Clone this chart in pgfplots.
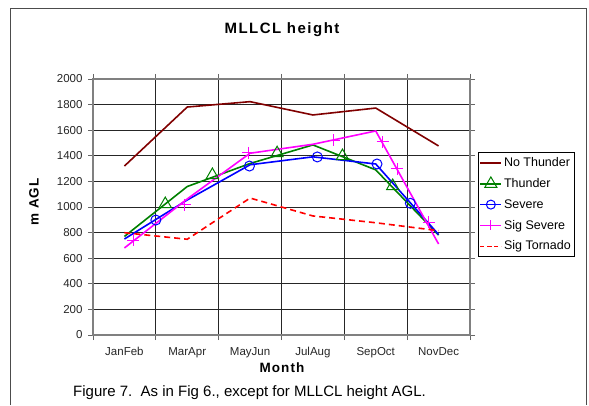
\documentclass[border=0pt]{standalone}
\usepackage{fontspec}
\setmainfont{Liberation Sans}
\usepackage{pgfplots}
\pgfplotsset{compat=1.18}
\definecolor{ntred}{RGB}{128,0,0}
\definecolor{thgreen}{RGB}{0,128,0}
\definecolor{svblue}{RGB}{0,0,255}
\definecolor{ssmag}{RGB}{255,0,255}
\definecolor{strd}{RGB}{255,0,0}
\begin{document}
\begin{tikzpicture}
\useasboundingbox (0pt,0pt) rectangle (589pt,405pt);
\draw[black!70, line width=0.8pt] (10.5pt,0pt) |- (586pt,397pt) -- (586pt,0pt);
\begin{axis}[
  at={(93pt,70pt)}, anchor=south west,
  width=377pt, height=256pt, scale only axis,
  xmin=-0.5, xmax=5.5, ymin=0, ymax=2000,
  xtick={-0.5,0.5,1.5,2.5,3.5,4.5,5.5}, xticklabels={},
  extra x ticks={0,1,2,3,4,5},
  extra x tick labels={JanFeb,MarApr,MayJun,JulAug,SepOct,NovDec},
  extra x tick style={major tick length=0pt, grid=none},
  ytick={0,200,...,2000},
  xmajorgrids, ymajorgrids,
  major grid style={black!85, line width=0.8pt},
  axis line style={black!50, line width=1.6pt},
  tick style={black!60, line width=0.9pt},
  tick align=outside, major tick length=5pt,
  ticklabel style={font=\fontsize{11.5}{13}\selectfont, text=black!85},
  xticklabel style={yshift=-9pt},
  yticklabel style={xshift=-2pt},
  /pgf/number format/assume math mode=true,
  /pgf/number format/set thousands separator={},
  legend style={at={(axis description cs:1.021,0.713)}, anchor=north west,
    draw=black, line width=0.6pt, font=\fontsize{12.5}{14}\selectfont,
    cells={anchor=west}, row sep=6.3pt, inner xsep=1.5pt, inner ysep=3pt},
  legend image code/.code={\draw[mark repeat=2,mark phase=2,#1] plot coordinates {(0pt,0pt) (10.5pt,0pt) (21pt,0pt)};},
  clip=false,
]
% lines
\addplot[ntred, line width=1.6pt, forget plot] coordinates {(0,1320) (1,1781) (2,1823) (3,1719) (4,1773) (5,1477)};
\addplot[thgreen, line width=1.6pt, forget plot] coordinates {(0,770) (1,1160) (2,1340) (3,1485) (4,1290) (5,780)};
\addplot[svblue, line width=1.6pt, forget plot] coordinates {(0,750) (1,1055) (2,1330) (3,1392) (4,1336) (5,785)};
\addplot[ssmag, line width=1.6pt, forget plot] coordinates {(0,680) (1,1063) (2,1420) (3,1490) (4,1594) (5,711)};
\addplot[strd, line width=1.6pt, dash pattern=on 6pt off 4pt, forget plot] coordinates {(0,799) (1,748) (2,1070) (3,930) (4,877) (5,815)};
% markers
\addplot[only marks, mark=triangle, mark size=7pt, mark options={draw=thgreen, fill=none, line width=1pt}, forget plot] coordinates {(0.65,1023) (1.40,1250) (2.43,1420) (3.47,1398) (4.27,1164)};
\addplot[only marks, mark=o, mark size=5pt, mark options={draw=svblue, line width=1pt}, forget plot] coordinates {(0.50,898) (1.99,1320) (3.07,1391) (4.02,1336) (4.55,1029)};
\addplot[only marks, mark=+, mark size=6pt, mark options={draw=ssmag, line width=1pt}, forget plot] coordinates {(0.14,742) (0.96,1016) (1.97,1422) (3.33,1523) (4.11,1508) (4.34,1297) (4.84,880)};
% legend
\addlegendimage{ntred, line width=1.3pt}
\addlegendentry{No Thunder}
\addlegendimage{thgreen, line width=1.3pt, mark=triangle, mark size=7pt, mark options={draw=thgreen, fill=none, line width=1pt}}
\addlegendentry{Thunder}
\addlegendimage{svblue, line width=1.3pt, mark=o, mark size=4.5pt, mark options={draw=svblue, line width=1pt}}
\addlegendentry{Severe}
\addlegendimage{ssmag, line width=1.3pt, mark=|, mark size=5pt, mark repeat=1, mark phase=1, mark options={draw=ssmag, line width=1pt}}
\addlegendentry{Sig Severe}
\addlegendimage{strd, line width=1.3pt, dash pattern=on 4pt off 3pt}
\addlegendentry{Sig Tornado}
\end{axis}
\node[font=\fontsize{15}{17}\selectfont\bfseries\addfontfeature{LetterSpace=10}] at (282pt,375pt) {MLLCL height};
\node[font=\fontsize{13.5}{15}\selectfont\bfseries\addfontfeature{LetterSpace=6}, rotate=90] at (34pt,203pt) {m AGL};
\node[font=\fontsize{13.5}{15}\selectfont\bfseries\addfontfeature{LetterSpace=8}] at (282pt,37pt) {Month};
\node[anchor=west, font=\fontsize{15}{18}\selectfont, inner sep=0pt] at (73pt,12pt) {Figure 7.\ \ As in Fig 6., except for MLLCL height AGL.};
\end{tikzpicture}
\end{document}
